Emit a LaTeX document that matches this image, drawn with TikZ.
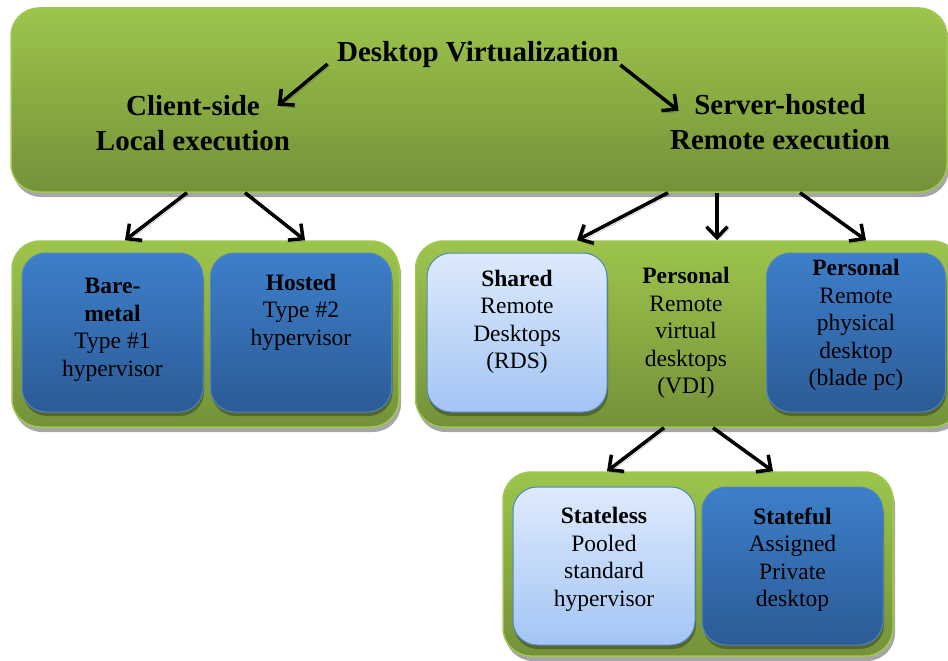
\documentclass[tikz,border=0pt]{standalone}
\usepackage{fontspec}
\setmainfont{Liberation Serif}
\usetikzlibrary{arrows.meta, shadows}

\definecolor{grnTop}{RGB}{157,197,76}
\definecolor{grnBot}{RGB}{116,145,57}
\definecolor{grnLine}{RGB}{160,200,80}
\definecolor{bluTop}{RGB}{61,127,202}
\definecolor{bluBot}{RGB}{44,91,150}
\definecolor{bluLine}{RGB}{80,132,195}
\definecolor{lgtTop}{RGB}{222,234,252}
\definecolor{lgtBot}{RGB}{163,197,245}

\tikzset{
  grpbox/.style={draw=grnLine, line width=1.5pt, rounded corners=28pt,
    top color=grnTop, bottom color=grnBot,
    drop shadow={shadow xshift=2pt, shadow yshift=-5pt, fill=black, opacity=.35}},
  darkbox/.style={draw=bluLine, line width=1pt, rounded corners=24pt,
    top color=bluTop, bottom color=bluBot, minimum width=181pt, minimum height=159pt,
    drop shadow={shadow xshift=1pt, shadow yshift=-4pt, fill=grnBot!60!black, opacity=.7}},
  lightbox/.style={darkbox, top color=lgtTop, bottom color=lgtBot},
  head/.style={align=center, font=\fontsize{29}{35}\selectfont\bfseries},
  txt/.style={align=center, font=\fontsize{23.5}{27.5}\selectfont},
  arr/.style={line width=3.5pt, -{Straight Barb[length=11pt,width=21pt]},
    preaction={draw=black, opacity=.3, transform canvas={xshift=1.5pt,yshift=-2.5pt}}}
}

\begin{document}
\begin{tikzpicture}[x=1pt, y=-1pt]
\useasboundingbox (0,0) rectangle (948,661);
\clip (0,0) rectangle (948,661);

% top level
\node[grpbox, minimum width=936pt, minimum height=184pt] (top) at (479,100) {};
\node[head] (title) at (478,55) {Desktop Virtualization};
\node[head] (client) at (193,123) {Client-side\\Local execution};
\node[head] (server) at (780,122) {Server-hosted\\Remote execution};

\draw[arr] ([xshift=-6pt,yshift=-9pt]title.west) -- ([xshift=-16pt,yshift=-14pt]client.north east);
\draw[arr] ([xshift=-2pt,yshift=-10pt]title.east) -- ([xshift=12pt,yshift=-20pt]server.north west);

% second level
\node[grpbox, minimum width=387pt, minimum height=186pt] (grpL) at (205.5,334) {};
\node[grpbox, minimum width=545pt, minimum height=186pt] (grpR) at (688,334) {};

\draw[arr] (top.south -| 187,0) -- (grpL.north -| 125,0);
\draw[arr] (top.south -| 245,0) -- (grpL.north -| 305,0);
\draw[arr] (top.south -| 668,0) -- (grpR.north -| 577,0);
\draw[arr] (top.south -| 717,0) -- (grpR.north -| 717,0);
\draw[arr] (top.south -| 800,0) -- (grpR.north -| 866,0);

\node[darkbox] (bare) at (112.5,332.5) {};
\node[txt] (bareT) at (112.5,330) {\textbf{Bare-}\\\textbf{metal}\\Type \#1\\hypervisor};
\node[darkbox] (hosted) at (301,332.5) {};
\node[txt] (hostedT) at (301,312) {\textbf{Hosted}\\Type \#2\\hypervisor};

\node[lightbox, minimum width=180pt] (shared) at (517,332.5) {};
\node[txt] (sharedT) at (517,322) {\textbf{Shared}\\Remote\\Desktops\\(RDS)};
\node[txt] (vdi) at (686,333) {\textbf{Personal}\\Remote\\virtual\\desktops\\(VDI)};
\node[darkbox, minimum width=179pt] (blade) at (856,332.5) {};
\node[txt] (bladeT) at (856,325) {\textbf{Personal}\\Remote\\physical\\desktop\\(blade pc)};

% third level
\node[grpbox, minimum width=390pt, minimum height=184pt] (grpB) at (698,564) {};

\draw[arr] (grpR.south -| 664,0) -- (grpB.north -| 607,0);
\draw[arr] (grpR.south -| 713,0) -- (grpB.north -| 773,0);

\node[lightbox, minimum width=182pt, minimum height=158pt] (stateless) at (604,566) {};
\node[txt] (statelessT) at (604,559.5) {\textbf{Stateless}\\Pooled\\standard\\hypervisor};
\node[darkbox, minimum height=158pt] (stateful) at (792.5,566) {};
\node[txt] (statefulT) at (792.5,559.5) {\textbf{Stateful}\\Assigned\\Private\\desktop};

\end{tikzpicture}
\end{document}
